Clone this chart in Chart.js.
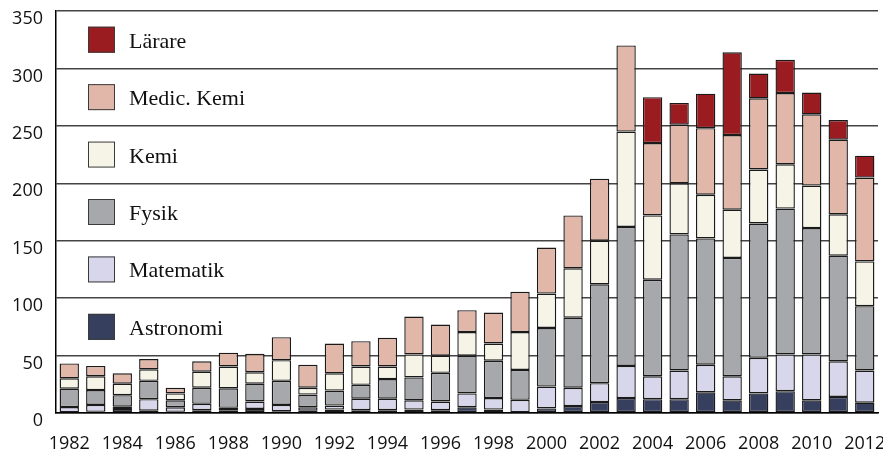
<!DOCTYPE html>
<html>
<head>
<meta charset="utf-8">
<script src="https://cdn.jsdelivr.net/npm/chart.js@4/dist/chart.umd.min.js"></script>
<style>
html,body{margin:0;padding:0;background:#fff;}
#wrap{width:883px;height:452px;}
</style>
</head>
<body>
<div id="wrap"><canvas id="c" width="883" height="452"></canvas></div>
<script>
const years = [1982,1983,1984,1985,1986,1987,1988,1989,1990,1991,1992,1993,1994,1995,1996,1997,1998,1999,2000,2001,2002,2003,2004,2005,2006,2007,2008,2009,2010,2011,2012];
const astronomi  = [0.5,1,3.5,2,1,2.5,2.5,3.5,1.5,2,3,2.5,2.5,3,2.5,5,3,0.5,4,6,9.5,13,12,12,18,11,17,19,11,14,9];
const matematik  = [4.7,6,2,10,4,5.5,2,6.5,5.5,3,3.5,10,10,8,7.5,12,10,11,19,16,16.5,28,20,25,24,21,31,32,40,31,28];
const fysik      = [16,13,10,16,6,14,17,15.5,21,11,13,12,17,20,25,33,32.5,26,51,61,86,121,84,118.5,110,103,117,127,110,92,56];
const kemi       = [9,12,10,10,6,14,19,10,18,6,15,16,11,20,15,20.5,15,33,30,43,38,83,56,44.5,38,42,47,38.5,37,36,39];
const medicKemi  = [13,9,9,9,5,9,12,16,20,20,26,22,25,33,27,19,27,35,40,46,54,75,63,51,58,65,62,62,62,65,73];
const larare     = [0,0,0,0,0,0,0,0,0,0,0,0,0,0,0,0,0,0,0,0,0,0,40,19,30,72,21.5,29,19,17,19];
const yTicks = [0,50,100,150,200,250,300,350];
const seriesNames = ['Astronomi','Matematik','Fysik','Kemi','Medic. Kemi','Lärare'];
const seriesColors = ['#363f5e','#d8d6ea','#a7a8ab','#f5f4e6','#e0b7a8','#9b1c20'];
const seriesData = [astronomi, matematik, fysik, kemi, medicKemi, larare];

const datasets = seriesNames.map((n,i)=>({
  label:n, data:seriesData[i], backgroundColor:seriesColors[i],
  borderColor:'#1a1a1a', borderWidth:1.4, borderSkipped:false,
  categoryPercentage:1, barPercentage:0.73
}));

const legendPlugin = {
  id:'customLegend',
  afterDraw(chart){
    const ctx = chart.ctx, y = chart.scales.y;
    const order = [5,4,3,2,1,0];
    order.forEach((si,k)=>{
      const cy = y.getPixelForValue(325 - 50*k);
      ctx.save();
      ctx.fillStyle = seriesColors[si];
      ctx.fillRect(88, cy-13, 27, 26);
      ctx.strokeStyle = '#3a3a3a';
      ctx.lineWidth = 1;
      ctx.strokeRect(88.5, cy-12.5, 26, 25);
      ctx.fillStyle = '#111';
      ctx.font = '22px "Liberation Serif"';
      ctx.textBaseline = 'alphabetic';
      ctx.textAlign = 'left';
      ctx.fillText(seriesNames[si], 129, cy+8);
      ctx.restore();
    });
  }
};

new Chart(document.getElementById('c'), {
  type:'bar',
  data:{labels:years.map(String), datasets},
  options:{
    responsive:false, animation:false,
    layout:{padding:{top:11,right:5,left:0,bottom:0}},
    plugins:{legend:{display:false}, tooltip:{enabled:false}},
    scales:{
      x:{
        stacked:true, offset:true,
        grid:{display:false},
        border:{display:true,color:'#000',width:1.5},
        ticks:{autoSkip:false,maxRotation:0,minRotation:0,padding:12,color:'#111',
          font:{family:'"Open Sans"',size:18},
          callback:function(v,i){return years[i]%2===0?String(years[i]):'';}},
        afterFit(s){s.height=39; s.paddingLeft=0; s.paddingRight=0;}
      },
      y:{
        stacked:true, min:0, max:350,
        afterBuildTicks(s){s.ticks = yTicks.map(v=>({value:v}));},
        grid:{color:'#444',lineWidth:1.5,drawTicks:false},
        border:{display:true,color:'#000',width:1.5},
        ticks:{padding:13,labelOffset:8,color:'#111',font:{family:'"Open Sans"',size:18}},
        afterFit(s){s.width=56; s.paddingTop=0; s.paddingBottom=0;}
      }
    }
  },
  plugins:[legendPlugin]
});
</script>
</body>
</html>
